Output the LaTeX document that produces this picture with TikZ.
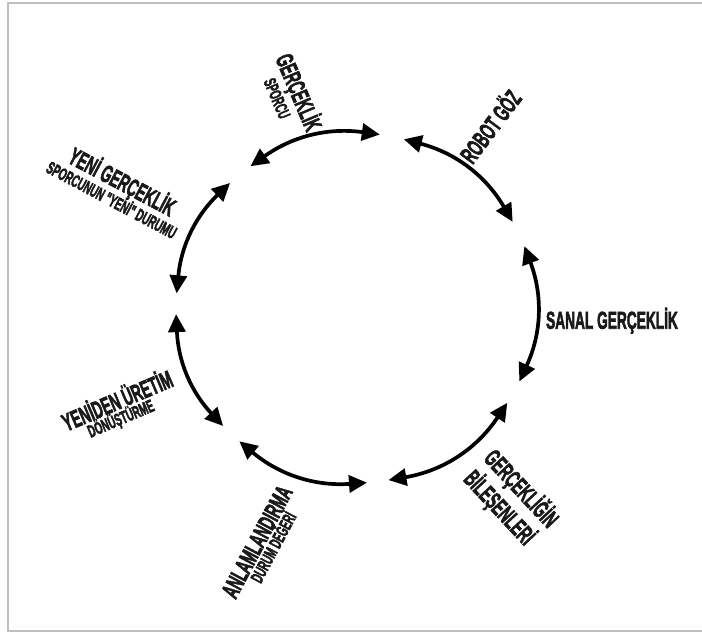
\documentclass[tikz,border=0pt]{standalone}
\usepackage{fontspec}
\usepackage{graphicx}
\newfontfamily\lblfont{Liberation Sans}[FakeBold=3]
\newcommand\narrowtxt[1]{\scalebox{0.56}[1]{#1}}
\usetikzlibrary{arrows.meta,calc}
\begin{document}
\begin{tikzpicture}[x=1pt,y=1pt,
  big/.style={font=\lblfont\bfseries\fontsize{24.5}{26}\selectfont, inner sep=0pt, text height=17.5pt, text depth=0pt, text=black!90},
  small/.style={font=\lblfont\bfseries\fontsize{17.5}{19}\selectfont, inner sep=0pt, text height=12.5pt, text depth=0pt, text=black!90},
  cyc/.style={line width=3.7pt, {Triangle[length=18pt,width=17pt]}-{Triangle[length=18pt,width=17pt]}},
  frame/.style={draw=black!25, line width=1.3pt}]
\useasboundingbox (0,0) rectangle (702,632);
\draw[frame] (702,629) -- (8,629) -- (8,1) -- (702,1);

% labels
\node[big, rotate=-67] (g1) at (299,539.7) {\narrowtxt{GERÇEKLİK}};
\node[small, rotate=-67] (g1s) at (277.3,533.7) {\narrowtxt{SPORCU}};
\node[big, rotate=53] (rg) at (490.7,505.3) {\narrowtxt{ROBOT GÖZ}};
\node[big] (sg) at (612,312) {\narrowtxt{SANAL GERÇEKLİK}};
\node[big, rotate=-47] (gb1) at (521.7,143.7) {\narrowtxt{GERÇEKLİĞİN}};
\node[big, rotate=-47] (gb2) at (500,124.7) {\narrowtxt{BİLEŞENLERİ}};
\node[big, rotate=62] (an1) at (256.7,90.3) {\narrowtxt{ANLAMLANDIRMA}};
\node[small, rotate=62] (an2) at (273.3,84.7) {\narrowtxt{DURUM DEĞERİ}};
\node[big, rotate=23] (yu1) at (117.3,231.3) {\narrowtxt{YENİDEN ÜRETİM}};
\node[small, rotate=23] (yu2) at (120.7,213.7) {\narrowtxt{DÖNÜŞTÜRME}};
\node[big, rotate=-28] (yg1) at (122.3,450.3) {\narrowtxt{YENİ GERÇEKLİK}};
\node[small, rotate=-28] (yg2) at (111.7,432) {\narrowtxt{SPORCUNUN "YENİ" DURUMU}};

% cycle arcs
\coordinate (c) at (356,324);
\coordinate (a1) at ($(c)+(125.9:180pt and 175pt)$);
\coordinate (b1) at ($(c)+(82.4:180pt and 175pt)$);
\coordinate (a2) at ($(c)+(74.6:180pt and 175pt)$);
\coordinate (b2) at ($(c)+(29.5:180pt and 175pt)$);
\coordinate (a3) at ($(c)+(20.7:180pt and 175pt)$);
\coordinate (b3) at ($(c)+(-24.8:180pt and 175pt)$);
\coordinate (a4) at ($(c)+(-32.8:180pt and 175pt)$);
\coordinate (b4) at ($(c)+(-79.6:180pt and 175pt)$);
\coordinate (a5) at ($(c)+(-86.5:180pt and 175pt)$);
\coordinate (b5) at ($(c)+(-130.4:180pt and 175pt)$);
\coordinate (a6) at ($(c)+(-137.6:180pt and 175pt)$);
\coordinate (b6) at ($(c)+(-178:180pt and 175pt)$);
\coordinate (a7) at ($(c)+(175.2:180pt and 175pt)$);
\coordinate (b7) at ($(c)+(134.4:180pt and 175pt)$);
\draw[cyc] (a1) to[bend left=21.7] (b1);
\draw[cyc] (a2) to[bend left=22.5] (b2);
\draw[cyc] (a3) to[bend left=22.7] (b3);
\draw[cyc] (a4) to[bend left=23.4] (b4);
\draw[cyc] (a5) to[bend left=22] (b5);
\draw[cyc] (a6) to[bend left=20.2] (b6);
\draw[cyc] (a7) to[bend left=20.4] (b7);
\end{tikzpicture}
\end{document}
